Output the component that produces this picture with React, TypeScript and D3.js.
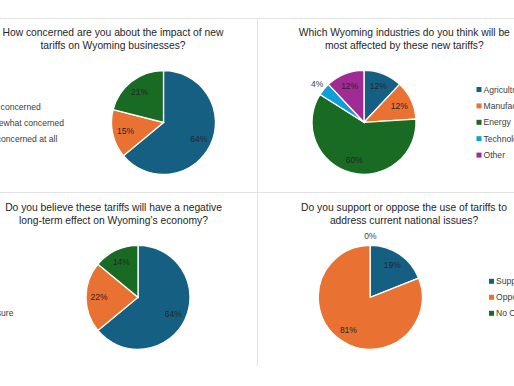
import { useRef, useEffect } from 'react';
import * as d3 from 'd3';

// survey answers
const concernLabels = ['Very concerned', 'Somewhat concerned', 'Not concerned at all'];
const concernValues = [64, 15, 21];

const industryLabels = ['Agriculture', 'Manufacturing', 'Energy', 'Technology', 'Other'];
const industryValues = [12, 12, 60, 4, 12];

const effectLabels = ['Yes', 'No', 'Not sure'];
const effectValues = [64, 22, 14];

const supportLabels = ['Support', 'Oppose', 'No Opinion'];
const supportValues = [19, 81, 0];

const palette = ['#156082', '#E97132', '#196B24', '#0F9ED5', '#A02B93'];

const charts = [
  {
    title: ['How concerned are you about the impact of new', 'tariffs on Wyoming businesses?'],
    labels: concernLabels, values: concernValues,
    cx: 163.5, cy: 122.5, titleX: 113, titleY: 35.5,
    legendX: -19, legendMarker: false, legendGap: 16,
  },
  {
    title: ['Which Wyoming industries do you think will be', 'most affected by these new tariffs?'],
    labels: industryLabels, values: industryValues,
    cx: 364, cy: 122.3, titleX: 404.3, titleY: 35.5,
    legendX: 483.5, legendMarker: true, legendGap: 16.4,
  },
  {
    title: ['Do you believe these tariffs will have a negative', 'long-term effect on Wyoming\u2019s economy?'],
    labels: effectLabels, values: effectValues,
    cx: 138, cy: 297.3, titleX: 113.5, titleY: 210.8,
    legendX: -19, legendMarker: false, legendGap: 16,
  },
  {
    title: ['Do you support or oppose the use of tariffs to', 'address current national issues?'],
    labels: supportLabels, values: supportValues,
    cx: 370.3, cy: 297.3, titleX: 404, titleY: 210.8,
    legendX: 496, legendMarker: true, legendGap: 16,
  },
];

const W = 514;
const H = 386;
const R = 52;
const FONT = '"Liberation Sans", Arial, sans-serif';

export default function App() {
  const svgRef = useRef<SVGSVGElement | null>(null);

  useEffect(() => {
    if (!svgRef.current) return;
    const svg = d3.select(svgRef.current);
    svg.selectAll('*').remove();

    // panel borders
    const grid = svg.append('g').attr('stroke', '#e3e3e3').attr('stroke-width', 1);
    grid.append('line').attr('x1', 0).attr('x2', W).attr('y1', 18.5).attr('y2', 18.5);
    grid.append('line').attr('x1', 0).attr('x2', W).attr('y1', 192.5).attr('y2', 192.5);
    grid.append('line').attr('x1', 257.5).attr('x2', 257.5).attr('y1', 18).attr('y2', 366);

    const pie = d3.pie<number>().sort(null).value(d => d);
    const arc = d3.arc<d3.PieArcDatum<number>>().innerRadius(0).outerRadius(R);

    charts.forEach(c => {
      const g = svg.append('g');

      // title
      c.title.forEach((line, i) => {
        g.append('text')
          .attr('x', c.titleX)
          .attr('y', c.titleY + i * 13.3)
          .attr('text-anchor', 'middle')
          .attr('fill', '#262626')
          .style('font-family', FONT)
          .style('font-size', '10.3px')
          .text(line);
      });

      const slices = pie(c.values);
      const pg = g.append('g').attr('transform', `translate(${c.cx},${c.cy})`);

      pg.selectAll('path')
        .data(slices)
        .enter()
        .append('path')
        .attr('d', arc)
        .attr('fill', (_, i) => palette[i])
        .attr('stroke', '#fff')
        .attr('stroke-width', 1.3);

      // data labels: inside for big slices, outside for tiny ones
      pg.selectAll('text.lbl')
        .data(slices)
        .enter()
        .append('text')
        .attr('class', 'lbl')
        .attr('transform', d => {
          const a = (d.startAngle + d.endAngle) / 2;
          const r = d.data < 5 ? R * 1.17 : R * 0.75;
          return `translate(${Math.sin(a) * r},${-Math.cos(a) * r})`;
        })
        .attr('text-anchor', 'middle')
        .attr('dy', '0.35em')
        .attr('fill', d => (d.data < 5 ? '#404040' : '#262626'))
        .style('font-family', FONT)
        .style('font-size', '8.5px')
        .text(d => `${d.data}%`);

      // legend
      const n = c.labels.length;
      c.labels.forEach((lab, i) => {
        const y = c.cy + (i - (n - 1) / 2) * c.legendGap;
        g.append('rect')
          .attr('x', c.legendX - 7)
          .attr('y', y - 2.5)
          .attr('width', 5)
          .attr('height', 5)
          .attr('fill', palette[i]);
        g.append('text')
          .attr('x', c.legendX)
          .attr('y', y)
          .attr('dy', '0.35em')
          .attr('fill', '#404040')
          .style('font-family', FONT)
          .style('font-size', '8.6px')
          .text(lab);
      });
    });
  }, []);

  return (
    <svg
      ref={svgRef}
      width={W}
      height={H}
      style={{ position: 'absolute', left: 0, top: 0, background: '#fff' }}
    />
  );
}
